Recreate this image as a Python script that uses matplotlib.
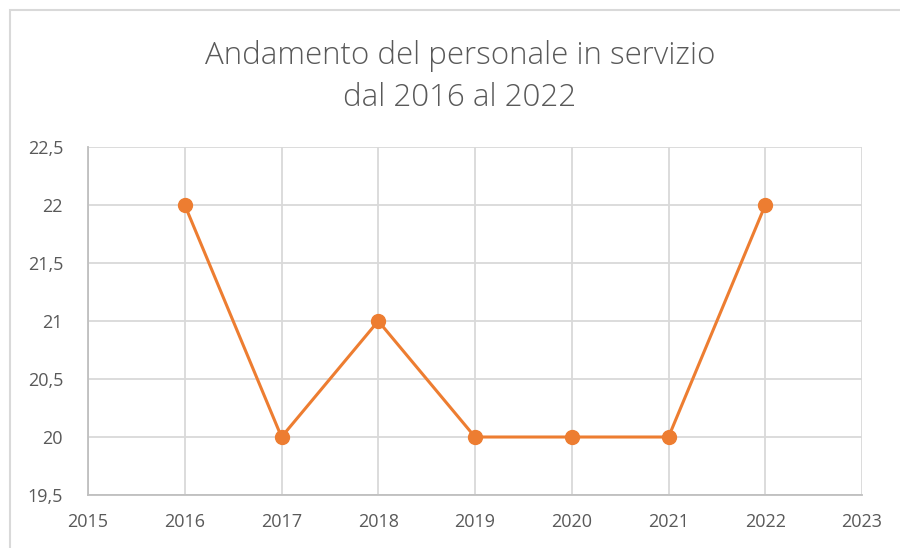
import matplotlib.pyplot as plt
from matplotlib.patches import Rectangle
from matplotlib.ticker import MultipleLocator, FuncFormatter

# dati
anni = [2016, 2017, 2018, 2019, 2020, 2021, 2022]
personale = [22, 20, 21, 20, 20, 20, 22]

arancio = "#ED7D31"
grigio_testo = "#595959"

plt.rcParams['font.family'] = ['Open Sans', 'DejaVu Sans']

fig = plt.figure(figsize=(9, 5.48), dpi=100)
ax = fig.add_axes([0.0978, 0.0967, 0.86, 0.635])

# cornice del grafico
fig.patches.append(Rectangle((10 / 900, -0.1), 1.2, 1 - 10 / 548 + 0.1,
                             transform=fig.transFigure, fill=False,
                             edgecolor="#d9d9d9", linewidth=1.5))

ax.plot(anni, personale, color=arancio, linewidth=2.2, marker="o",
        markersize=10, zorder=3, clip_on=False)

ax.set_xlim(2015, 2023)
ax.set_ylim(19.5, 22.5)
ax.xaxis.set_major_locator(MultipleLocator(1))
ax.yaxis.set_major_locator(MultipleLocator(0.5))
ax.yaxis.set_major_formatter(FuncFormatter(lambda v, p: ("%g" % v).replace(".", ",")))

ax.grid(True, color="#d9d9d9", linewidth=1.3)
ax.set_axisbelow(True)
for s in ["top", "right"]:
    ax.spines[s].set_visible(False)
for s in ["left", "bottom"]:
    ax.spines[s].set_color("#bfbfbf")
    ax.spines[s].set_linewidth(1.3)

ax.tick_params(length=0, labelsize=13, labelcolor=grigio_testo)
ax.tick_params(axis="x", pad=13)
ax.tick_params(axis="y", pad=18)

fig.text(0.511, 0.859, "Andamento del personale in servizio\ndal 2016 al 2022",
         ha="center", va="center", fontsize=22.5, color=grigio_testo,
         fontweight="light", linespacing=1.43)

fig.savefig("out.png", dpi=100)
